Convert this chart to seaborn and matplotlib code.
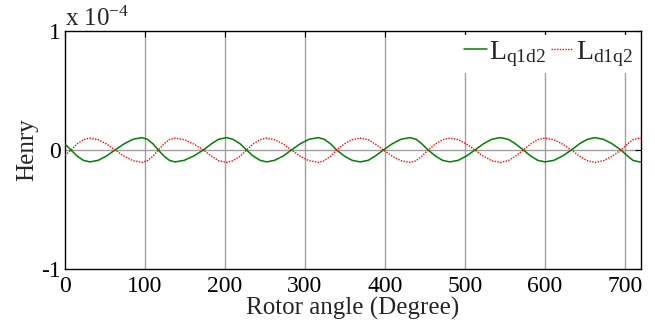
import matplotlib
matplotlib.use("Agg")
import matplotlib.pyplot as plt
import seaborn as sns
import pandas as pd

# Rotor angle (degrees) sample points
angle = [0, 7.5, 15, 23, 31, 41.5, 52, 62.5, 74, 85, 96, 103, 110, 116.6,
         123.6, 130.5, 137.5, 149, 161, 173, 183, 192, 202, 210, 219, 227,
         235, 244, 252, 262, 273, 283, 294, 305, 316.7, 324, 332, 339.6,
         349, 359, 369, 379, 388, 398, 409, 420, 431, 439, 446, 454,
         463, 472, 481, 491.5, 502, 512.5, 523, 533.5, 544, 554, 563, 573,
         582, 591, 600, 611, 622, 633, 643, 653, 662.5, 673, 684, 695,
         703, 710, 718, 720]

# L_q1d2 (x 1e-4 H), solid green
l_q1d2 = [0.05, 0.0, -0.05, -0.087, -0.1, -0.087, -0.05, 0.0, 0.052, 0.09, 0.104, 0.09, 0.052, 0.0,
          -0.05, -0.087, -0.1, -0.087, -0.05, 0.0, 0.052, 0.09, 0.104, 0.09, 0.052, 0.0,
          -0.05, -0.087, -0.1, -0.087, -0.05, 0.0, 0.052, 0.09, 0.104, 0.09, 0.052, 0.0,
          -0.05, -0.087, -0.1, -0.087, -0.05, 0.0, 0.052, 0.09, 0.104, 0.09, 0.052, 0.0,
          -0.05, -0.087, -0.1, -0.087, -0.05, 0.0, 0.052, 0.09, 0.104, 0.09, 0.052, 0.0,
          -0.05, -0.087, -0.1, -0.087, -0.05, 0.0, 0.052, 0.09, 0.104, 0.09, 0.052, 0.0,
          -0.05, -0.087, -0.1, -0.099]

# L_d1q2 (x 1e-4 H), dotted red
l_d1q2 = [-0.045, 0.0, 0.05, 0.087, 0.1, 0.087, 0.05, 0.0, -0.052, -0.09, -0.104, -0.09, -0.052, 0.0,
          0.05, 0.087, 0.1, 0.087, 0.05, 0.0, -0.052, -0.09, -0.104, -0.09, -0.052, 0.0,
          0.05, 0.087, 0.1, 0.087, 0.05, 0.0, -0.052, -0.09, -0.104, -0.09, -0.052, 0.0,
          0.05, 0.087, 0.1, 0.087, 0.05, 0.0, -0.052, -0.09, -0.104, -0.09, -0.052, 0.0,
          0.05, 0.087, 0.1, 0.087, 0.05, 0.0, -0.052, -0.09, -0.104, -0.09, -0.052, 0.0,
          0.05, 0.087, 0.1, 0.087, 0.05, 0.0, -0.052, -0.09, -0.104, -0.09, -0.052, 0.0,
          0.05, 0.087, 0.1, 0.099]

x_ticks = [0, 100, 200, 300, 400, 500, 600, 700]
y_ticks = [-1, 0, 1]

sns.set_style("white")
plt.rcParams["font.family"] = ["Liberation Serif", "DejaVu Serif"]
plt.rcParams["mathtext.fontset"] = "custom"
plt.rcParams["mathtext.rm"] = "Liberation Serif"
plt.rcParams["mathtext.it"] = "Liberation Serif:italic"

fig = plt.figure(figsize=(6.55, 3.24), dpi=100)
ax = fig.add_axes([0.0992, 0.1698, 0.8794, 0.7345])

df = pd.DataFrame({"angle": angle, "q1d2": l_q1d2, "d1q2": l_d1q2})

ax.set_xlim(0, 720)
ax.set_ylim(-1, 1)
ax.set_xticks(x_ticks)
ax.set_yticks(y_ticks)
ax.set_xticklabels([str(t) for t in x_ticks])
ax.set_yticklabels([str(t) for t in y_ticks])

for xv in x_ticks[1:]:
    ax.axvline(xv, color="#a0a0a0", lw=1.0, zorder=0)
ax.axhline(0, color="#a0a0a0", lw=1.0, zorder=0)

sns.lineplot(data=df, x="angle", y="q1d2", ax=ax, color="#008000", lw=1.1,
             label=r"$\mathrm{L_{q1d2}}$", zorder=3)
sns.lineplot(data=df, x="angle", y="d1q2", ax=ax, color="#ff0000", lw=1.0,
             linestyle=(0, (1, 1)), label=r"$\mathrm{L_{d1q2}}$", zorder=3)

ax.tick_params(direction="in", length=4, width=0.8, top=True, right=True,
               labelsize=17, colors="black")
ax.tick_params(axis="x", pad=5)
ax.tick_params(axis="y", pad=3)
for s in ax.spines.values():
    s.set_color("black")
    s.set_linewidth(1.0)

ax.set_xlabel("Rotor angle (Degree)", fontsize=18, labelpad=0)
ax.set_ylabel("Henry", fontsize=18, labelpad=2)

ax.text(0.0, 1.0, r"x 10$^{-4}$", transform=ax.transAxes, fontsize=18,
        ha="left", va="bottom")

leg = ax.legend(loc="upper right", ncol=2, frameon=True, fontsize=20,
                handlelength=0.8, handletextpad=0.1, columnspacing=0.15,
                borderaxespad=0.15, borderpad=0.15)
leg.get_frame().set_facecolor("white")
leg.get_frame().set_edgecolor("white")
leg.get_frame().set_alpha(1.0)
leg.get_frame().set_linewidth(0)
leg.get_frame().set_boxstyle("square", pad=0)

fig.savefig("out.png", dpi=100)
